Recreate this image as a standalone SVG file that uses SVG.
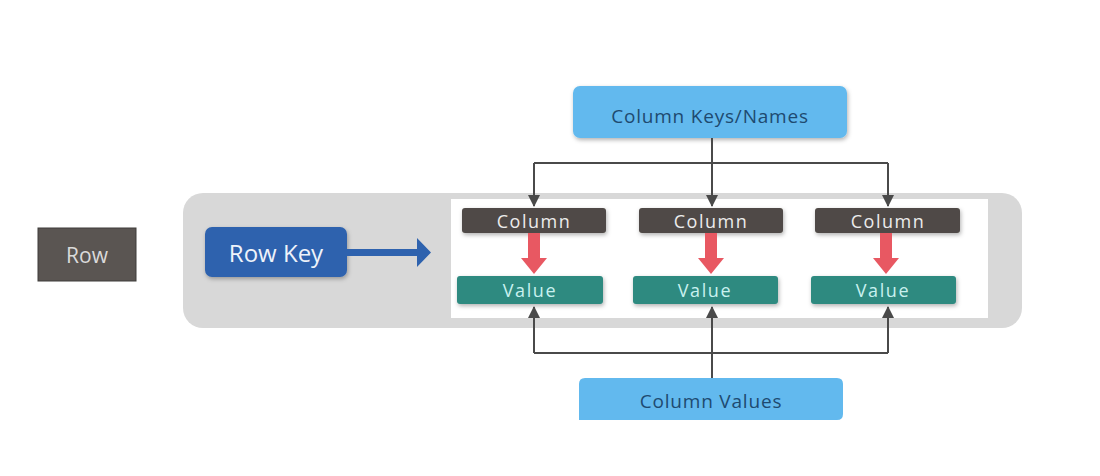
<svg xmlns="http://www.w3.org/2000/svg" width="1100" height="476" viewBox="0 0 1100 476">
<defs>
<style>
.t{font-family:"Open Sans","Noto Sans","DejaVu Sans",sans-serif;text-anchor:middle;dominant-baseline:central}
.col{fill:#4f4a47}
.val{fill:#2f8a80}
.colt{fill:#ececec;font-size:18px;letter-spacing:1.5px}
.valt{fill:#c9f1ef;font-size:18px;letter-spacing:1.6px}
.light{fill:#62b9ee}
.lt{fill:#1e4a70;font-size:19px;letter-spacing:0.8px;font-weight:500}
.ln{fill:none;stroke:#4a4a4a;stroke-width:2}
</style>
<filter id="sh" x="-10%" y="-20%" width="125%" height="160%">
<feDropShadow dx="1" dy="2" stdDeviation="2" flood-color="#000" flood-opacity="0.3"/>
</filter>
<marker id="ah" viewBox="0 0 12 12" refX="11" refY="6" markerWidth="12" markerHeight="12" markerUnits="userSpaceOnUse" orient="auto">
<path d="M0,0 L12,6 L0,12 Z" fill="#4a4a4a"/>
</marker>
</defs>
<rect width="1100" height="476" fill="#ffffff"/>

<g id="row">
<rect x="38" y="228" width="98" height="53" fill="#5a5552" stroke="#3f3c3a" stroke-width="1"/>
<text class="t" x="87" y="255" fill="#dadada" font-size="21">Row</text>
</g>

<g id="container">
<rect x="183" y="193" width="839" height="135" rx="20" fill="#d8d8d8"/>
<rect x="451" y="199" width="537" height="119" fill="#ffffff"/>
</g>

<g id="rowkey">
<rect x="205" y="227" width="142" height="50" rx="7" fill="#2e62ae" filter="url(#sh)"/>
<text class="t" x="276" y="252" fill="#eef3fa" font-size="24">Row Key</text>
</g>

<g id="colkeys">
<rect x="573" y="86" width="274" height="52" rx="7" class="light" filter="url(#sh)"/>
<text class="t lt" x="710" y="116">Column Keys/Names</text>
</g>

<g id="colvalues">
<path d="M579,384 Q579,378 585,378 L837,378 Q843,378 843,384 L843,414 Q843,420 837,420 L579,420 Z" class="light"/>
<text class="t lt" x="711" y="401" font-size="20">Column Values</text>
</g>

<g id="column1"><rect x="462" y="208" width="144" height="25" rx="3" class="col" filter="url(#sh)"/><text class="t colt" x="534" y="221">Column</text></g>
<g id="column2"><rect x="639" y="208" width="144" height="25" rx="3" class="col" filter="url(#sh)"/><text class="t colt" x="711" y="221">Column</text></g>
<g id="column3"><rect x="815" y="208" width="145" height="25" rx="3" class="col" filter="url(#sh)"/><text class="t colt" x="888" y="221">Column</text></g>

<g id="value1"><rect x="457" y="276" width="146" height="28" rx="3" class="val" filter="url(#sh)"/><text class="t valt" x="530" y="290">Value</text></g>
<g id="value2"><rect x="633" y="276" width="145" height="28" rx="3" class="val" filter="url(#sh)"/><text class="t valt" x="705" y="290">Value</text></g>
<g id="value3"><rect x="811" y="276" width="145" height="28" rx="3" class="val" filter="url(#sh)"/><text class="t valt" x="883" y="290">Value</text></g>

<g id="connectors">
<path d="M347,249 L417,249 L417,238 L431,252.5 L417,267 L417,256 L347,256 Z" fill="#2e62ae"/>
<path d="M528,233 L540,233 L540,258 L547,258 L534,274 L521,258 L528,258 Z" fill="#e85862"/>
<path d="M705,233 L717,233 L717,258 L724,258 L711,274 L698,258 L705,258 Z" fill="#e85862"/>
<path d="M880,233 L892,233 L892,258 L899,258 L886,274 L873,258 L880,258 Z" fill="#e85862"/>
<path class="ln" d="M712,138 L712,206" marker-end="url(#ah)"/>
<path class="ln" d="M534,163 L888,163"/>
<path class="ln" d="M534,163 L534,206" marker-end="url(#ah)"/>
<path class="ln" d="M888,163 L888,206" marker-end="url(#ah)"/>
<path class="ln" d="M712,378 L712,307" marker-end="url(#ah)"/>
<path class="ln" d="M534,353 L888,353"/>
<path class="ln" d="M534,353 L534,307" marker-end="url(#ah)"/>
<path class="ln" d="M888,353 L888,307" marker-end="url(#ah)"/>
</g>
</svg>
